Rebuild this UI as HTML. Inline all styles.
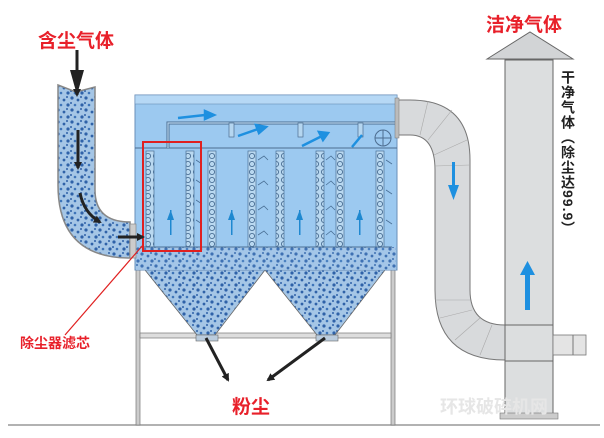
<!DOCTYPE html>
<html><head><meta charset="utf-8"><style>
html,body{margin:0;padding:0;background:#fff;width:604px;height:438px;overflow:hidden;position:relative}
svg{display:block}
text{font-family:"Liberation Sans","Noto Sans CJK SC",sans-serif;font-weight:bold}
.vt{position:absolute;left:559px;top:70px;writing-mode:vertical-rl;font-family:"Liberation Sans","Noto Sans CJK SC",sans-serif;font-weight:bold;font-size:14px;line-height:18px;color:#222;letter-spacing:1px}
</style></head><body>
<svg width="604" height="438" viewBox="0 0 604 438" xmlns="http://www.w3.org/2000/svg">
<defs>
<pattern id="dust" width="14" height="12" patternUnits="userSpaceOnUse">
<rect width="14" height="12" fill="#a5c6e6"/>
<circle cx="2" cy="2" r="1.6" fill="#2f62a8"/><circle cx="8" cy="4" r="1.4" fill="#2f62a8"/>
<circle cx="12" cy="9" r="1.6" fill="#2f62a8"/><circle cx="5" cy="9" r="1.3" fill="#3d74b8"/>
<circle cx="11" cy="1" r="1" fill="#2f62a8"/><circle cx="1" cy="7" r="1" fill="#2f62a8"/>
</pattern>
<pattern id="mesh" width="8" height="8" patternUnits="userSpaceOnUse">
<rect width="8" height="8" fill="#b9d8f0"/><circle cx="4" cy="4" r="2.6" fill="none" stroke="#4a6f95" stroke-width="0.9"/>
</pattern>
<marker id="ah" markerWidth="8" markerHeight="8" refX="6" refY="4" orient="auto" markerUnits="userSpaceOnUse"><path d="M0,0 L8,4 L0,8 z" fill="#222"/></marker>
</defs>

<line x1="8" y1="425" x2="600" y2="425" stroke="#999" stroke-width="1.5"/>
<rect x="136" y="265" width="4" height="160" fill="#ccc" stroke="#777" stroke-width="0.7"/>
<rect x="391" y="265" width="4" height="160" fill="#ccc" stroke="#777" stroke-width="0.7"/>
<rect x="140" y="333" width="251" height="5" fill="#ddd" stroke="#777" stroke-width="0.7"/>

<polygon points="145,270 265,270 215,335 197,335" fill="url(#dust)" stroke="#666" stroke-width="0.8"/>
<polygon points="265,270 385,270 335,335 317,335" fill="url(#dust)" stroke="#666" stroke-width="0.8"/>
<rect x="196" y="335" width="22" height="6" fill="#bcd" stroke="#666" stroke-width="0.6"/>
<rect x="316" y="335" width="22" height="6" fill="#bcd" stroke="#666" stroke-width="0.6"/>

<rect x="135" y="95" width="262" height="175" fill="#9cc9f0" stroke="#6a8fb8" stroke-width="1"/>
<rect x="135" y="95" width="262" height="9" fill="#b6d8f5" stroke="#6a8fb8" stroke-width="0.6"/>
<rect x="136" y="247" width="260" height="23" fill="url(#dust)" opacity="0.85"/>
<line x1="135" y1="148" x2="397" y2="148" stroke="#4d6d90" stroke-width="1"/>
<path d="M168,148 V123 H395" fill="none" stroke="#4d6d90" stroke-width="3"/>
<path d="M168,148 V123 H395" fill="none" stroke="#b5d6f0" stroke-width="1.2"/>
<rect x="229" y="123" width="5" height="14" fill="#b5d6f0" stroke="#4d6d90" stroke-width="0.7"/>
<rect x="298" y="123" width="5" height="14" fill="#b5d6f0" stroke="#4d6d90" stroke-width="0.7"/>
<rect x="358" y="123" width="5" height="14" fill="#b5d6f0" stroke="#4d6d90" stroke-width="0.7"/>
<circle cx="383" cy="138" r="8" fill="none" stroke="#4d6d90" stroke-width="1"/>
<line x1="375" y1="138" x2="391" y2="138" stroke="#4d6d90"/><line x1="383" y1="130" x2="383" y2="146" stroke="#4d6d90"/>
<g stroke="#1e90e0" stroke-width="2.5" fill="#1e90e0">
<line x1="178" y1="118" x2="205" y2="115"/><polygon points="205,111 214,115 205,119"/>
<line x1="238" y1="136" x2="258" y2="129"/><polygon points="256,125 266,127 259,133"/>
<line x1="302" y1="146" x2="322" y2="136"/><polygon points="319,132 328,133 323,140"/>
<line x1="352" y1="147" x2="362" y2="135"/>
</g>
<g stroke="#4a6f95" stroke-width="0.7">
<rect x="146" y="151" width="8" height="96" fill="url(#mesh)"/>
<rect x="186" y="151" width="8" height="96" fill="url(#mesh)"/>
<rect x="208" y="151" width="8" height="96" fill="url(#mesh)"/>
<rect x="248" y="151" width="8" height="96" fill="url(#mesh)"/>
<rect x="276" y="151" width="8" height="96" fill="url(#mesh)"/>
<rect x="316" y="151" width="8" height="96" fill="url(#mesh)"/>
<rect x="336" y="151" width="8" height="96" fill="url(#mesh)"/>
<rect x="376" y="151" width="8" height="96" fill="url(#mesh)"/>
<line x1="140" y1="247" x2="392" y2="247" stroke-width="1"/>
</g>
<g fill="#1e88d0">
<rect x="170" y="210" width="1.5" height="25"/><polygon points="167,220 174,220 170.7,210"/>
<rect x="231" y="210" width="1.5" height="25"/><polygon points="228,220 235,220 231.7,210"/>
<rect x="299" y="210" width="1.5" height="25"/><polygon points="296,220 303,220 299.7,210"/>
<rect x="359" y="210" width="1.5" height="25"/><polygon points="356,220 363,220 359.7,210"/>
</g>
<g stroke="#4a6f95" stroke-width="0.8" fill="none">
<path d="M196,160 l6,4 M196,180 l6,4 M196,200 l6,4 M196,220 l6,4 M258,160 l6,-4 l4,4 M258,185 l6,-4 l4,4 M258,210 l6,-4 l4,4 M258,235 l6,-4 l4,4 M326,160 l5,-4 l4,4 M326,185 l5,-4 l4,4 M326,210 l5,-4 l4,4 M326,235 l5,-4 l4,4 M386,160 l6,4 M386,190 l6,4 M386,220 l6,4"/>
</g>
<rect x="143" y="142" width="58" height="109" fill="none" stroke="#e02020" stroke-width="2"/>

<path d="M58,85 L76,92 L95,87 V190 Q95,222 130,222 V258 Q58,258 58,185 Z" fill="url(#dust)" stroke="#888" stroke-width="1.5"/>
<rect x="130" y="224" width="6" height="34" fill="#ccc" stroke="#888" stroke-width="0.7"/>
<g stroke="#222" stroke-width="3" fill="none" marker-end="url(#ah)">
<line x1="77" y1="50" x2="77" y2="95"/>
<line x1="78" y1="130" x2="78" y2="168"/>
<path d="M80,193 Q84,213 100,222"/>
<line x1="118" y1="237" x2="143" y2="237"/>
</g>
<polygon points="70,70 84,70 77,95" fill="#222"/>

<line x1="65" y1="335" x2="143" y2="245" stroke="#e02020" stroke-width="1.2"/>
<g stroke="#222" stroke-width="3" marker-end="url(#ah)">
<line x1="206" y1="338" x2="228" y2="380"/>
<line x1="325" y1="338" x2="268" y2="380"/>
</g>

<path d="M397,100 H410 Q470,100 470,160 V290 Q470,325 505,325 V360 Q435,360 435,290 V170 Q435,135 410,135 H397 Z" fill="#d8dadc" stroke="#777" stroke-width="1"/>
<g stroke="#aaa" stroke-width="0.6"><line x1="420" y1="135" x2="428" y2="101"/><line x1="428" y1="140" x2="452" y2="110"/><line x1="434" y1="155" x2="467" y2="140"/><line x1="435" y1="166" x2="470" y2="165"/><line x1="435" y1="300" x2="470" y2="300"/><line x1="440" y1="318" x2="472" y2="310"/><line x1="455" y1="340" x2="480" y2="318"/><line x1="480" y1="355" x2="492" y2="325"/></g>
<rect x="395" y="98" width="4" height="40" fill="#bbb" stroke="#777" stroke-width="0.5"/>

<rect x="505" y="60" width="48" height="355" fill="#dcdedf" stroke="#666" stroke-width="1"/>
<line x1="505" y1="325" x2="553" y2="325" stroke="#666"/>
<line x1="505" y1="361" x2="553" y2="361" stroke="#666"/>
<rect x="500" y="413" width="58" height="6" fill="#ccc" stroke="#777" stroke-width="0.6"/>
<polygon points="487,59 530,32 573,59" fill="#d2d4d6" stroke="#666" stroke-width="1"/>
<rect x="553" y="335" width="33" height="20" fill="#e4e4e4" stroke="#777" stroke-width="0.8"/>
<line x1="573" y1="335" x2="573" y2="355" stroke="#777"/>
<g fill="#1e90e0">
<rect x="452" y="162" width="3" height="25"/><polygon points="448,185 459,185 453.5,200"/>
<rect x="525" y="270" width="5" height="40"/><polygon points="520,275 535,275 527.5,261"/>
</g>

<text x="38" y="47" font-size="19" fill="#e8202a">含尘气体</text>
<text x="486" y="31" font-size="19" fill="#e8202a">洁净气体</text>
<text x="20" y="348" font-size="14" fill="#e8202a">除尘器滤芯</text>
<text x="232" y="413" font-size="19" fill="#e8202a">粉尘</text>
<text x="440" y="413" font-size="18" fill="#e6e6e6">环球破碎机网</text>
</svg>
<div class="vt">干净气体（除尘达99.9）</div>
</body></html>
